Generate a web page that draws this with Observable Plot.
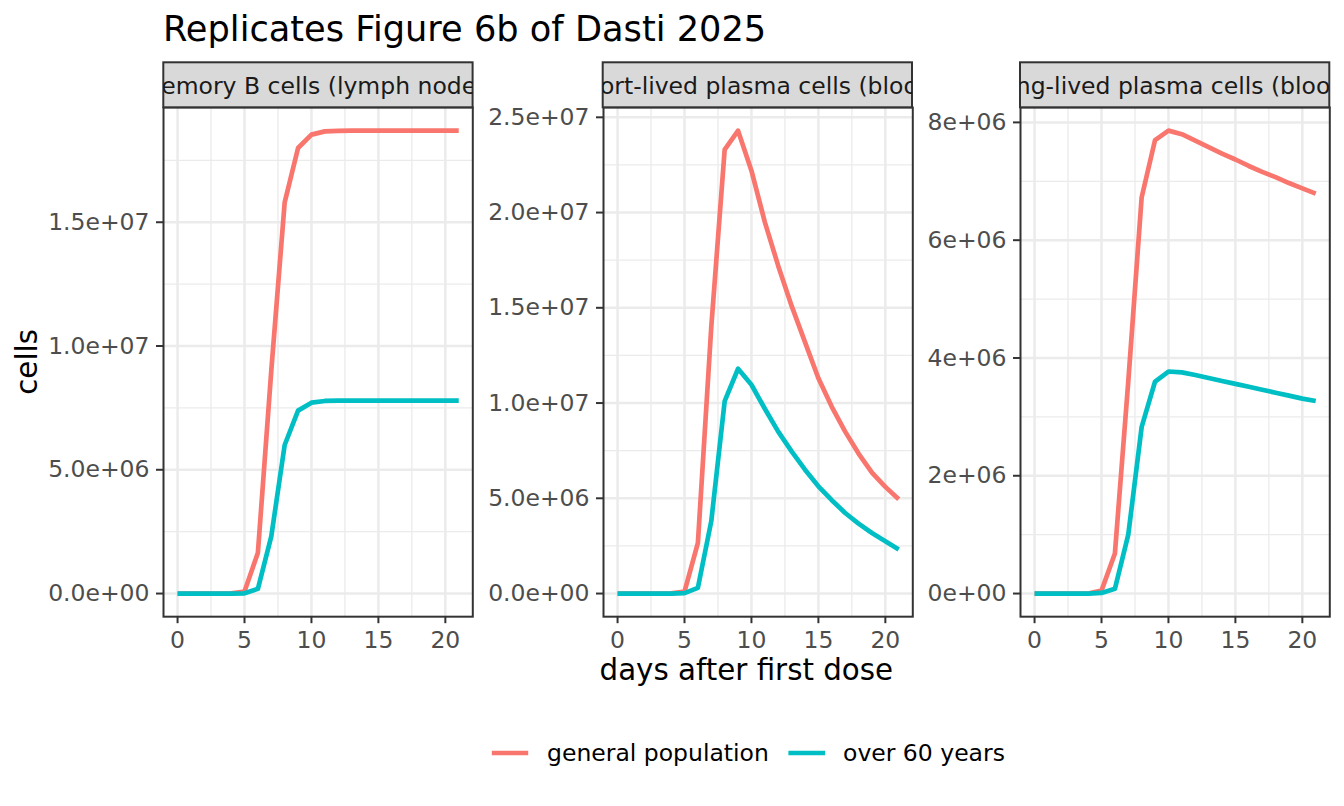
<!DOCTYPE html>
<html>
<head>
<meta charset="utf-8">
<script src="https://cdn.jsdelivr.net/npm/d3@7"></script>
<script src="https://cdn.jsdelivr.net/npm/@observablehq/plot@0.6"></script>
<style>
  body { margin: 0; background: #fff; font-family: "DejaVu Sans", sans-serif; }
  #wrap { position: relative; width: 1344px; height: 806px; overflow: hidden; background: #fff; }
  #wrap > svg { position: absolute; }
</style>
</head>
<body>
<div id="wrap"></div>
<script>
// ---------- data ----------
const days = [0,1,2,3,4,5,6,7,8,9,10,11,12,13,14,15,16,17,18,19,20,21];
const groups = ["general population", "over 60 years"];
const groupColors = ["#F8766D", "#00BFC4"];

const panelTitles = [
  "memory B cells (lymph nodes)",
  "short-lived plasma cells (blood)",
  "long-lived plasma cells (blood)"
];

const memoryGeneral = [0,0,0,0,0.01e6,0.08e6,1.65e6,9.0e6,15.8e6,18.0e6,18.54e6,18.67e6,18.69e6,18.7e6,18.7e6,18.7e6,18.7e6,18.7e6,18.7e6,18.7e6,18.7e6,18.7e6];
const memoryOver60  = [0,0,0,0,0,0.01e6,0.19e6,2.31e6,6.0e6,7.39e6,7.71e6,7.78e6,7.79e6,7.79e6,7.79e6,7.79e6,7.79e6,7.79e6,7.79e6,7.79e6,7.79e6,7.79e6];

const shortGeneral = [0,0,0,0,0.01e6,0.1e6,2.66e6,14.0e6,23.3e6,24.3e6,22.2e6,19.5e6,17.2e6,15.1e6,13.2e6,11.3e6,9.8e6,8.5e6,7.35e6,6.35e6,5.6e6,4.95e6];
const shortOver60  = [0,0,0,0,0,0.02e6,0.3e6,3.8e6,10.1e6,11.8e6,10.96e6,9.7e6,8.5e6,7.46e6,6.5e6,5.63e6,4.9e6,4.23e6,3.67e6,3.18e6,2.74e6,2.31e6];

const longGeneral = [0,0,0,0,0,0.05e6,0.68e6,3.6e6,6.73e6,7.70e6,7.86e6,7.80e6,7.69e6,7.58e6,7.47e6,7.37e6,7.26e6,7.16e6,7.07e6,6.97e6,6.88e6,6.79e6];
const longOver60  = [0,0,0,0,0,0.01e6,0.08e6,1.0e6,2.83e6,3.6e6,3.77e6,3.755e6,3.71e6,3.66e6,3.61e6,3.56e6,3.51e6,3.46e6,3.41e6,3.36e6,3.31e6,3.27e6];

const xTicks = [0,5,10,15,20];
const xTickLabels = ["0","5","10","15","20"];
const xMinor = [2.5,7.5,12.5,17.5];

const memoryYTicks = [0,5e6,10e6,15e6];
const memoryYLabels = ["0.0e+00","5.0e+06","1.0e+07","1.5e+07"];
const memoryYMinor = [2.5e6,7.5e6,12.5e6,17.5e6];

const shortYTicks = [0,5e6,10e6,15e6,20e6,25e6];
const shortYLabels = ["0.0e+00","5.0e+06","1.0e+07","1.5e+07","2.0e+07","2.5e+07"];
const shortYMinor = [2.5e6,7.5e6,12.5e6,17.5e6,22.5e6];

const longYTicks = [0,2e6,4e6,6e6,8e6];
const longYLabels = ["0e+00","2e+06","4e+06","6e+06","8e+06"];
const longYMinor = [1e6,3e6,5e6,7e6];

const chartTitle = "Replicates Figure 6b of Dasti 2025";
const xTitle = "days after first dose";
const yTitle = "cells";

// ---------- layout ----------
const FONT = "DejaVu Sans";
const LINE_W = 4.7;
const panelLefts = [163.3, 602.7, 1020];
const PW = 309.3;
const panelTop = 107.3, panelBottom = 616.5;
const PH = panelBottom - panelTop;
const stripTop = 62.3;
const ML = 125, MR = 5, MT = 5, MB = 45;

const panels = [
  {title: panelTitles[0], general: memoryGeneral, over60: memoryOver60, yTicks: memoryYTicks, yLabels: memoryYLabels, yMinor: memoryYMinor},
  {title: panelTitles[1], general: shortGeneral, over60: shortOver60, yTicks: shortYTicks, yLabels: shortYLabels, yMinor: shortYMinor},
  {title: panelTitles[2], general: longGeneral, over60: longOver60, yTicks: longYTicks, yLabels: longYLabels, yMinor: longYMinor}
];

const wrap = document.getElementById("wrap");

panels.forEach((p, k) => {
  const rows = [];
  days.forEach((d, i) => rows.push({day: d, value: p.general[i], group: groups[0]}));
  days.forEach((d, i) => rows.push({day: d, value: p.over60[i], group: groups[1]}));
  const [lo, hi] = d3.extent(rows, r => r.value);
  const yp = (hi - lo) * 0.05;
  const [xl, xh] = d3.extent(days);
  const xp = (xh - xl) * 0.05;

  const chart = Plot.plot({
    width: ML + PW + MR,
    height: MT + PH + MB,
    marginLeft: ML, marginRight: MR, marginTop: MT, marginBottom: MB,
    style: {fontFamily: FONT, fontSize: "23.5px", background: "transparent", overflow: "visible"},
    x: {domain: [xl - xp, xh + xp]},
    y: {domain: [lo - yp, hi + yp]},
    color: {domain: groups, range: groupColors},
    marks: [
      Plot.gridX(xMinor, {stroke: "#EBEBEB", strokeOpacity: 1, strokeWidth: 1.3}),
      Plot.gridY(p.yMinor, {stroke: "#EBEBEB", strokeOpacity: 1, strokeWidth: 1.3}),
      Plot.gridX(xTicks, {stroke: "#EBEBEB", strokeOpacity: 1, strokeWidth: 2.5}),
      Plot.gridY(p.yTicks, {stroke: "#EBEBEB", strokeOpacity: 1, strokeWidth: 2.5}),
      Plot.lineY(rows, {x: "day", y: "value", z: "group", stroke: "group", strokeWidth: LINE_W, strokeLinejoin: "round", strokeLinecap: "butt"}),
      Plot.frame({stroke: "#333333", strokeWidth: 2}),
      Plot.axisX({ticks: xTicks, tickFormat: d => xTickLabels[xTicks.indexOf(d)], tickSize: 7, tickPadding: 8,
        stroke: "#333333", strokeWidth: 2, fill: "#4D4D4D", fontSize: 23.5, label: null}),
      Plot.axisY({ticks: p.yTicks, tickFormat: d => p.yLabels[p.yTicks.indexOf(d)], tickSize: 7, tickPadding: 7,
        stroke: "#333333", strokeWidth: 2, fill: "#4D4D4D", fontSize: 23.5, label: null})
    ]
  });
  chart.style.position = "absolute";
  chart.style.left = (panelLefts[k] - ML) + "px";
  chart.style.top = (panelTop - MT) + "px";
  chart.style.maxWidth = "none";
  wrap.appendChild(chart);
});

// ---------- overlay: title, strips, axis titles, legend ----------
const ov = d3.select(wrap).append("svg")
  .attr("width", 1344).attr("height", 806)
  .style("left", "0px").style("top", "0px")
  .style("font-family", FONT);

ov.append("text").attr("x", 163).attr("y", 40.7)
  .attr("font-size", 35.2).attr("fill", "#000").text(chartTitle);

const defs = ov.append("defs");
panels.forEach((p, k) => {
  const x0 = panelLefts[k];
  defs.append("clipPath").attr("id", "strip" + k)
    .append("rect").attr("x", x0).attr("y", stripTop).attr("width", PW).attr("height", panelTop - stripTop);
  ov.append("rect").attr("x", x0).attr("y", stripTop).attr("width", PW).attr("height", panelTop - stripTop)
    .attr("fill", "#D9D9D9").attr("stroke", "#333333").attr("stroke-width", 2);
  ov.append("text").attr("x", x0 + PW / 2).attr("y", 94)
    .attr("text-anchor", "middle").attr("font-size", 23.5).attr("fill", "#1A1A1A")
    .attr("clip-path", "url(#strip" + k + ")").text(p.title);
});

ov.append("text").attr("x", (panelLefts[0] + panelLefts[2] + PW) / 2).attr("y", 680)
  .attr("text-anchor", "middle").attr("font-size", 29.3).attr("fill", "#000").text(xTitle);

ov.append("text").attr("transform", "translate(37," + ((panelTop + panelBottom) / 2) + ") rotate(-90)")
  .attr("text-anchor", "middle").attr("font-size", 29.3).attr("fill", "#000").text(yTitle);

const legendKeys = [[491.8, 528.2, 547], [788.4, 825.1, 843]];
groups.forEach((g, i) => {
  const [a, b, t] = legendKeys[i];
  ov.append("line").attr("x1", a).attr("x2", b).attr("y1", 753).attr("y2", 753)
    .attr("stroke", groupColors[i]).attr("stroke-width", LINE_W);
  ov.append("text").attr("x", t).attr("y", 761).attr("font-size", 23.5).attr("fill", "#000").text(g);
});
</script>
</body>
</html>
